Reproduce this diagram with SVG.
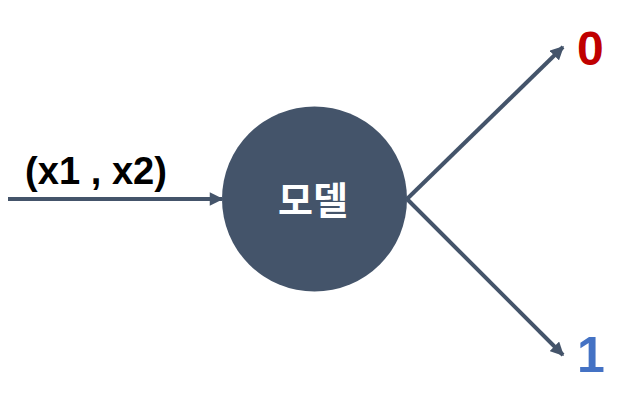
<svg xmlns="http://www.w3.org/2000/svg" width="637" height="413" viewBox="0 0 637 413">
<style>
.ln{stroke:#44546A;stroke-width:4;fill:none}
.lbl{font-family:"Liberation Sans","Noto Sans CJK KR",sans-serif;font-weight:bold}
</style>
<defs>
<marker id="ah" viewBox="0 0 10 10" refX="9" refY="5" markerWidth="3.6" markerHeight="3.4" orient="auto" markerUnits="strokeWidth">
<path d="M0,0 L10,5 L0,10 z" fill="#44546A"/>
</marker>
</defs>
<rect width="637" height="413" fill="#fff"/>
<g id="connectors">
<line class="ln" x1="8" y1="199" x2="222" y2="199" marker-end="url(#ah)"/>
<line class="ln" x1="407" y1="199" x2="563" y2="47" marker-end="url(#ah)"/>
<line class="ln" x1="407" y1="199" x2="563" y2="355" marker-end="url(#ah)"/>
</g>
<g id="model">
<circle cx="314.5" cy="199" r="92.5" fill="#44546A"/>
<text x="313" y="214" text-anchor="middle" class="lbl" font-size="38" fill="#fff" font-family="'Noto Sans CJK KR',sans-serif">모델</text>
</g>
<g id="input">
<text x="25" y="184" class="lbl" font-size="38" fill="#000" textLength="142" lengthAdjust="spacingAndGlyphs">(x1 , x2)</text>
</g>
<g id="out0">
<text x="577" y="65" class="lbl" font-size="48" fill="#C00000">0</text>
</g>
<g id="out1">
<text x="577" y="372" class="lbl" font-size="50" fill="#4472C4">1</text>
</g>
</svg>
